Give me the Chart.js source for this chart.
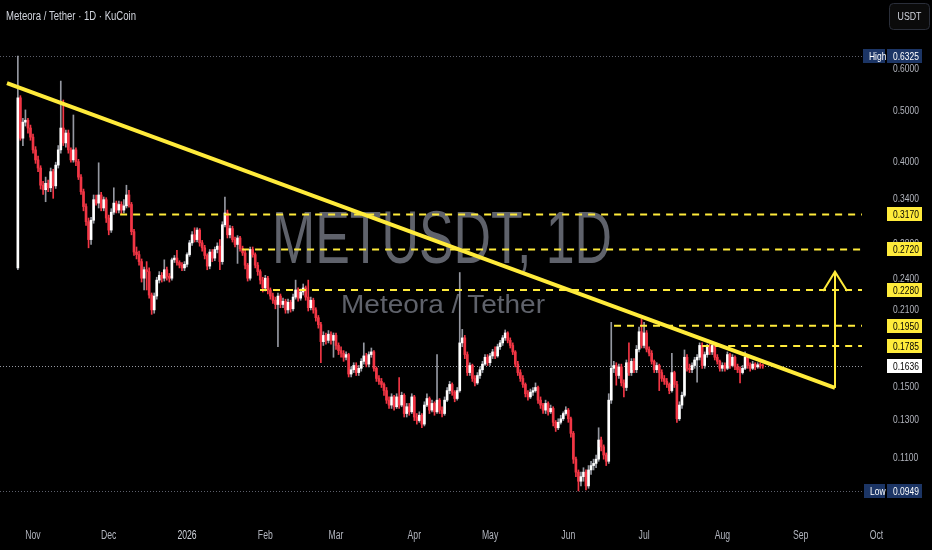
<!DOCTYPE html>
<html>
<head>
<meta charset="utf-8">
<title>METUSDT 1D</title>
<script src="https://cdn.jsdelivr.net/npm/chart.js@4.4.1/dist/chart.umd.min.js"></script>
<style>
  html, body { margin: 0; padding: 0; background: #000; }
  #wrap { width: 932px; height: 550px; }
</style>
</head>
<body>
<div id="wrap"><canvas id="chart" width="932" height="550"></canvas></div>
<script>
// daily candles, first one is Oct 26 2025 (day -6 counted from Nov 1)
const FIRST_DAY = -6;

const opens = [
  0.251,0.527,0.442,0.474,0.478,0.462,0.444,0.420,0.402,0.388,
  0.360,0.353,0.363,0.356,0.382,0.359,0.393,0.420,0.462,0.433,
  0.452,0.420,0.402,0.420,0.399,0.373,0.350,0.328,0.307,0.284,
  0.309,0.338,0.333,0.345,0.326,0.338,0.312,0.296,0.320,0.333,
  0.323,0.331,0.323,0.329,0.345,0.331,0.294,0.269,0.266,0.258,
  0.240,0.249,0.247,0.223,0.209,0.222,0.238,0.243,0.240,0.249,
  0.242,0.240,0.260,0.262,0.257,0.254,0.251,0.255,0.266,0.280,
  0.290,0.284,0.296,0.280,0.274,0.265,0.253,0.269,0.262,0.272,
  0.276,0.258,0.303,0.319,0.290,0.298,0.284,0.278,0.286,0.273,
  0.268,0.254,0.240,0.272,0.266,0.254,0.247,0.238,0.230,0.240,
  0.228,0.222,0.218,0.214,0.222,0.214,0.217,0.209,0.216,0.210,
  0.221,0.228,0.220,0.226,0.230,0.221,0.211,0.218,0.209,0.202,
  0.196,0.182,0.187,0.183,0.188,0.183,0.187,0.179,0.175,0.173,
  0.170,0.172,0.158,0.161,0.164,0.159,0.162,0.167,0.171,0.165,
  0.172,0.174,0.162,0.155,0.153,0.151,0.147,0.141,0.138,0.143,
  0.137,0.143,0.138,0.144,0.133,0.137,0.134,0.143,0.131,0.129,
  0.132,0.127,0.138,0.142,0.135,0.139,0.134,0.141,0.135,0.133,
  0.141,0.147,0.151,0.146,0.142,0.147,0.181,0.185,0.172,0.159,
  0.164,0.155,0.152,0.157,0.161,0.165,0.170,0.166,0.171,0.174,
  0.171,0.178,0.181,0.185,0.189,0.183,0.179,0.174,0.165,0.159,
  0.155,0.151,0.145,0.143,0.146,0.147,0.149,0.141,0.138,0.135,
  0.139,0.134,0.136,0.128,0.125,0.128,0.130,0.133,0.135,0.130,
  0.122,0.109,0.103,0.099,0.101,0.103,0.097,0.104,0.106,0.107,
  0.109,0.1185,0.115,0.111,0.108,0.141,0.162,0.164,0.157,0.163,
  0.152,0.149,0.166,0.159,0.167,0.161,0.176,0.190,0.179,0.189,
  0.176,0.173,0.167,0.161,0.164,0.159,0.155,0.153,0.151,0.147,
  0.159,0.151,0.130,0.138,0.144,0.170,0.162,0.161,0.164,0.168,
  0.170,0.179,0.164,0.172,0.178,0.174,0.179,0.170,0.167,0.162,
  0.164,0.162,0.172,0.164,0.170,0.163,0.161,0.159,0.162,0.170,
  0.164,0.162,0.165,0.163,0.1645,0.1640
];
const highs = [
  0.6325,0.532,0.482,0.500,0.482,0.468,0.450,0.426,0.409,0.392,
  0.366,0.373,0.368,0.388,0.386,0.398,0.428,0.567,0.522,0.458,
  0.458,0.424,0.489,0.424,0.403,0.377,0.354,0.332,0.312,0.313,
  0.345,0.345,0.397,0.349,0.342,0.341,0.316,0.325,0.356,0.336,
  0.336,0.335,0.338,0.360,0.352,0.334,0.297,0.275,0.270,0.261,
  0.252,0.258,0.251,0.225,0.225,0.241,0.247,0.246,0.260,0.252,
  0.245,0.262,0.265,0.271,0.259,0.257,0.258,0.268,0.283,0.294,
  0.299,0.299,0.298,0.283,0.277,0.267,0.272,0.272,0.275,0.280,
  0.284,0.307,0.342,0.323,0.302,0.301,0.287,0.289,0.288,0.276,
  0.271,0.256,0.275,0.275,0.268,0.257,0.249,0.241,0.243,0.242,
  0.230,0.225,0.221,0.225,0.224,0.220,0.219,0.219,0.218,0.224,
  0.238,0.230,0.229,0.234,0.232,0.238,0.221,0.220,0.211,0.204,
  0.198,0.190,0.189,0.191,0.190,0.189,0.189,0.181,0.178,0.175,
  0.174,0.173,0.163,0.166,0.166,0.164,0.169,0.181,0.173,0.174,
  0.177,0.175,0.163,0.157,0.155,0.152,0.149,0.143,0.145,0.144,
  0.145,0.1555,0.146,0.145,0.139,0.139,0.145,0.144,0.133,0.134,
  0.133,0.140,0.145,0.143,0.141,0.140,0.172,0.142,0.137,0.143,
  0.149,0.153,0.152,0.147,0.149,0.246,0.192,0.187,0.174,0.166,
  0.165,0.157,0.159,0.163,0.167,0.172,0.172,0.173,0.176,0.178,
  0.180,0.183,0.187,0.1915,0.190,0.185,0.181,0.175,0.167,0.161,
  0.157,0.152,0.147,0.148,0.149,0.152,0.150,0.143,0.139,0.141,
  0.140,0.138,0.137,0.129,0.130,0.132,0.134,0.137,0.136,0.131,
  0.123,0.110,0.104,0.103,0.105,0.104,0.106,0.108,0.109,0.111,
  0.125,0.120,0.116,0.112,0.145,0.198,0.167,0.166,0.165,0.165,
  0.154,0.168,0.181,0.169,0.169,0.179,0.194,0.201,0.198,0.191,
  0.178,0.175,0.168,0.166,0.165,0.161,0.157,0.155,0.152,0.173,
  0.160,0.153,0.140,0.146,0.1755,0.172,0.165,0.166,0.170,0.172,
  0.181,0.181,0.174,0.180,0.180,0.181,0.180,0.172,0.168,0.166,
  0.166,0.174,0.173,0.172,0.171,0.165,0.163,0.164,0.174,0.171,
  0.166,0.167,0.166,0.166,0.166,0.165
];
const lows = [
  0.249,0.438,0.428,0.466,0.452,0.438,0.414,0.396,0.382,0.354,
  0.346,0.335,0.350,0.350,0.340,0.355,0.388,0.414,0.428,0.425,
  0.414,0.398,0.398,0.392,0.369,0.346,0.322,0.302,0.274,0.278,
  0.305,0.330,0.326,0.322,0.322,0.306,0.290,0.293,0.317,0.319,
  0.319,0.318,0.319,0.326,0.327,0.290,0.265,0.261,0.254,0.236,
  0.228,0.228,0.220,0.205,0.206,0.219,0.235,0.236,0.237,0.238,
  0.236,0.238,0.257,0.254,0.251,0.248,0.248,0.252,0.264,0.277,
  0.281,0.281,0.276,0.270,0.261,0.249,0.250,0.258,0.259,0.268,
  0.249,0.255,0.300,0.286,0.286,0.281,0.275,0.256,0.270,0.265,
  0.250,0.237,0.238,0.263,0.251,0.243,0.234,0.226,0.227,0.224,
  0.219,0.215,0.210,0.178,0.211,0.211,0.206,0.206,0.207,0.208,
  0.219,0.217,0.218,0.223,0.218,0.208,0.209,0.206,0.199,0.193,
  0.166,0.179,0.180,0.181,0.180,0.170,0.176,0.172,0.170,0.167,
  0.168,0.156,0.156,0.159,0.157,0.157,0.160,0.165,0.163,0.163,
  0.170,0.160,0.153,0.151,0.149,0.144,0.139,0.136,0.136,0.135,
  0.136,0.136,0.137,0.131,0.131,0.132,0.133,0.129,0.127,0.128,
  0.125,0.126,0.137,0.133,0.134,0.132,0.133,0.133,0.131,0.132,
  0.140,0.145,0.144,0.140,0.141,0.146,0.178,0.169,0.157,0.157,
  0.153,0.150,0.151,0.155,0.159,0.164,0.164,0.164,0.169,0.169,
  0.170,0.176,0.179,0.183,0.181,0.177,0.172,0.163,0.157,0.153,
  0.149,0.143,0.141,0.142,0.144,0.146,0.139,0.136,0.133,0.133,
  0.132,0.133,0.126,0.123,0.124,0.127,0.129,0.132,0.128,0.120,
  0.107,0.101,0.0949,0.097,0.099,0.0953,0.096,0.102,0.104,0.105,
  0.108,0.113,0.109,0.106,0.107,0.139,0.159,0.1505,0.155,0.150,
  0.143,0.147,0.157,0.157,0.159,0.159,0.174,0.177,0.177,0.174,
  0.171,0.165,0.159,0.159,0.147,0.153,0.151,0.149,0.145,0.146,
  0.149,0.128,0.129,0.136,0.143,0.160,0.159,0.159,0.162,0.1525,
  0.168,0.162,0.162,0.170,0.172,0.172,0.168,0.165,0.160,0.160,
  0.160,0.161,0.162,0.163,0.161,0.159,0.152,0.158,0.161,0.162,
  0.160,0.161,0.161,0.162,0.162,0.162
];
const closes = [
  0.527,0.442,0.474,0.478,0.462,0.444,0.420,0.402,0.388,0.360,
  0.353,0.363,0.356,0.382,0.359,0.393,0.420,0.462,0.433,0.452,
  0.420,0.402,0.420,0.399,0.373,0.350,0.328,0.307,0.284,0.309,
  0.338,0.333,0.345,0.326,0.338,0.312,0.296,0.320,0.333,0.323,
  0.331,0.323,0.329,0.345,0.331,0.294,0.269,0.266,0.258,0.240,
  0.249,0.247,0.223,0.209,0.222,0.238,0.243,0.240,0.249,0.242,
  0.240,0.260,0.262,0.257,0.254,0.251,0.255,0.266,0.280,0.290,
  0.284,0.296,0.280,0.274,0.265,0.253,0.269,0.262,0.272,0.276,
  0.258,0.303,0.319,0.290,0.298,0.284,0.278,0.286,0.273,0.268,
  0.254,0.240,0.272,0.266,0.254,0.247,0.238,0.230,0.240,0.228,
  0.222,0.218,0.214,0.222,0.214,0.217,0.209,0.216,0.210,0.221,
  0.228,0.220,0.226,0.230,0.221,0.211,0.218,0.209,0.202,0.196,
  0.182,0.187,0.183,0.188,0.183,0.187,0.179,0.175,0.173,0.170,
  0.172,0.158,0.161,0.164,0.159,0.162,0.167,0.171,0.165,0.172,
  0.174,0.162,0.155,0.153,0.151,0.147,0.141,0.138,0.143,0.137,
  0.143,0.138,0.144,0.133,0.137,0.134,0.143,0.131,0.129,0.132,
  0.127,0.138,0.142,0.135,0.139,0.134,0.141,0.135,0.133,0.141,
  0.147,0.151,0.146,0.142,0.147,0.181,0.185,0.172,0.159,0.164,
  0.155,0.152,0.157,0.161,0.165,0.170,0.166,0.171,0.174,0.171,
  0.178,0.181,0.185,0.189,0.183,0.179,0.174,0.165,0.159,0.155,
  0.151,0.145,0.143,0.146,0.147,0.149,0.141,0.138,0.135,0.139,
  0.134,0.136,0.128,0.125,0.128,0.130,0.133,0.135,0.130,0.122,
  0.109,0.103,0.099,0.101,0.103,0.097,0.104,0.106,0.107,0.109,
  0.1185,0.115,0.111,0.108,0.141,0.162,0.164,0.157,0.163,0.152,
  0.149,0.166,0.159,0.167,0.161,0.176,0.190,0.179,0.189,0.176,
  0.173,0.167,0.161,0.164,0.159,0.155,0.153,0.151,0.147,0.159,
  0.151,0.130,0.138,0.144,0.170,0.162,0.161,0.164,0.168,0.170,
  0.179,0.164,0.172,0.178,0.174,0.179,0.170,0.167,0.162,0.164,
  0.162,0.172,0.164,0.170,0.163,0.161,0.159,0.162,0.170,0.164,
  0.162,0.165,0.163,0.1645,0.1640,0.1636
];

// axis ticks / labels
const monthDays   = [0, 30, 61, 92, 120, 151, 181, 212, 242, 273, 304, 334];
const monthLabels = ['Nov', 'Dec', '2026', 'Feb', 'Mar', 'Apr', 'May', 'Jun', 'Jul', 'Aug', 'Sep', 'Oct'];
const priceTicks  = [0.6, 0.5, 0.4, 0.34, 0.28, 0.24, 0.21, 0.15, 0.13, 0.11];

// drawn levels
const levelPrices = [0.3170, 0.2720, 0.2280, 0.1950, 0.1785];
const levelStart  = [34.5, 82.8, 89.9, 230.1, 265];
const trendDays   = [-10.3, 317.6];
const trendPrices = [0.562, 0.1487];
const arrowDays   = [317.6, 317.6];
const arrowPrices = [0.1487, 0.247];
const headDays    = [312.9, 317.6, 322.4];
const headPrices  = [0.227, 0.247, 0.227];
const HIGH = 0.6325, LOW = 0.0949, LAST = 0.1636;

const X_MIN = -13.07, X_MAX = 328.3;
const Y_MIN = 0.0836, Y_MAX = 0.8075;

const UP = '#ffffff', DOWN = '#f23645', UP_WICK = '#9598a1', YELLOW = '#ffeb3b';
const AXIS_TEXT = '#b2b5be';
const FONT = "'Liberation Sans', Arial, sans-serif";
const SQUEEZE = 0.77;   // the screenshot text is narrow

const isUp = i => closes[i] >= opens[i];

const wickData = lows.map((l, i) => ({ x: FIRST_DAY + i, y: [l, highs[i]] }));
const bodyData = opens.map((o, i) => ({ x: FIRST_DAY + i, y: [o, closes[i]] }));

function lineSet(xs, ys, width, dash) {
  return {
    type: 'line',
    data: xs.map((x, i) => ({ x: x, y: ys[i] })),
    borderColor: YELLOW,
    borderWidth: width,
    borderDash: dash || [],
    pointRadius: 0,
    fill: false,
    tension: 0,
    order: 0
  };
}

const datasets = [
  {
    type: 'bar',
    label: 'wick',
    data: wickData,
    backgroundColor: ctx => isUp(ctx.dataIndex) ? UP_WICK : DOWN,
    barThickness: 1,
    grouped: false,
    borderWidth: 0,
    order: 3
  },
  {
    type: 'bar',
    label: 'body',
    data: bodyData,
    backgroundColor: ctx => isUp(ctx.dataIndex) ? UP : DOWN,
    barThickness: 2,
    minBarLength: 1,
    grouped: false,
    borderWidth: 0,
    order: 2
  }
];
levelPrices.forEach((p, i) => {
  datasets.push(lineSet([levelStart[i], X_MAX], [p, p], 2, [7, 6]));
});
datasets.push(lineSet(trendDays, trendPrices, 4));
datasets.push(lineSet(arrowDays, arrowPrices, 2));
datasets.push(lineSet(headDays, headPrices, 2));

// text drawn narrower than the font to match the capture
function squeezed(ctx, text, x, y, size, sx, align) {
  ctx.save();
  ctx.font = size + 'px ' + FONT;
  ctx.translate(x, y);
  ctx.scale(sx, 1);
  ctx.textAlign = align;
  ctx.fillText(text, 0, 0);
  ctx.restore();
}

function fitText(ctx, text, x, y, size, width, align) {
  ctx.font = size + 'px ' + FONT;
  const w = ctx.measureText(text).width;
  squeezed(ctx, text, x, y, size, width / w, align);
}

function hDotted(ctx, area, y, color) {
  ctx.save();
  ctx.strokeStyle = color;
  ctx.lineWidth = 1;
  ctx.setLineDash([1, 2]);
  ctx.beginPath();
  ctx.moveTo(area.left, Math.round(y) + 0.5);
  ctx.lineTo(area.right, Math.round(y) + 0.5);
  ctx.stroke();
  ctx.restore();
}

function box(ctx, x, y, w, text, fill, color) {
  const yy = Math.round(y);
  ctx.fillStyle = fill;
  ctx.fillRect(x, yy - 7, w, 14);
  ctx.fillStyle = color;
  ctx.textBaseline = 'middle';
  squeezed(ctx, text, x + 6, yy + 0.5, 11, SQUEEZE, 'left');
}

const overlay = {
  id: 'overlay',
  beforeDatasetsDraw(chart) {
    const ctx = chart.ctx, area = chart.chartArea, ys = chart.scales.y;
    ctx.save();
    ctx.fillStyle = '#5f626b';
    ctx.textBaseline = 'alphabetic';
    fitText(ctx, 'METUSDT, 1D', 442, 263, 75, 340, 'center');
    fitText(ctx, 'Meteora / Tether', 443, 313, 26, 204, 'center');
    ctx.restore();
    hDotted(ctx, area, ys.getPixelForValue(HIGH), '#5d606b');
    hDotted(ctx, area, ys.getPixelForValue(LOW), '#5d606b');
    hDotted(ctx, area, ys.getPixelForValue(LAST), '#9598a1');
  },
  afterDraw(chart) {
    const ctx = chart.ctx, ys = chart.scales.y, xs = chart.scales.x;
    const bx = ys.left + 25;
    ctx.save();

    // price scale labels from the scale's own ticks
    ctx.fillStyle = AXIS_TEXT;
    ctx.textBaseline = 'middle';
    ys.ticks.forEach(t => {
      squeezed(ctx, t.value.toFixed(4), ys.left + 31, Math.round(ys.getPixelForValue(t.value)) + 0.5, 11, SQUEEZE, 'left');
    });

    // price axis markers
    levelPrices.forEach(p => {
      box(ctx, bx, ys.getPixelForValue(p), 35, p.toFixed(4), YELLOW, '#000');
    });
    box(ctx, bx, ys.getPixelForValue(LAST), 35, LAST.toFixed(4), '#ffffff', '#000');
    box(ctx, bx, ys.getPixelForValue(HIGH), 35, HIGH.toFixed(4), '#1c3565', '#ffffff');
    box(ctx, ys.left + 1, ys.getPixelForValue(HIGH), 22, 'High', '#1c3565', '#ffffff');
    box(ctx, bx, ys.getPixelForValue(LOW), 35, LOW.toFixed(4), '#1c3565', '#ffffff');
    box(ctx, ys.left + 2, ys.getPixelForValue(LOW), 21, 'Low', '#1c3565', '#ffffff');

    // time axis
    ctx.textBaseline = 'middle';
    monthDays.forEach((d, i) => {
      ctx.fillStyle = monthLabels[i] === '2026' ? '#d1d4dc' : AXIS_TEXT;
      squeezed(ctx, monthLabels[i], xs.getPixelForValue(d), 536, 12, 0.72, 'center');
    });

    // header
    ctx.fillStyle = '#d1d4dc';
    ctx.textBaseline = 'alphabetic';
    fitText(ctx, 'Meteora / Tether \u00b7 1D \u00b7 KuCoin', 6, 20, 13, 130, 'left');

    // currency button
    ctx.strokeStyle = '#2a2e39';
    ctx.fillStyle = '#0b0b0b';
    ctx.lineWidth = 1;
    ctx.beginPath();
    ctx.roundRect(889.5, 3.5, 40, 26, 4);
    ctx.fill();
    ctx.stroke();
    ctx.fillStyle = '#d1d4dc';
    ctx.textBaseline = 'middle';
    squeezed(ctx, 'USDT', 909.5, 17, 11, 0.8, 'center');
    ctx.restore();
  }
};

new Chart(document.getElementById('chart'), {
  type: 'bar',
  data: { datasets: datasets },
  options: {
    responsive: false,
    animation: false,
    events: [],
    layout: { padding: 0 },
    plugins: {
      legend: { display: false },
      tooltip: { enabled: false }
    },
    scales: {
      x: {
        type: 'linear',
        min: X_MIN,
        max: X_MAX,
        offset: false,
        grid: { display: false },
        border: { display: false },
        ticks: { display: false },
        afterFit: s => { s.height = 30; s.paddingLeft = 0; s.paddingRight = 0; }
      },
      y: {
        type: 'logarithmic',
        position: 'right',
        min: Y_MIN,
        max: Y_MAX,
        grid: { display: false, drawTicks: false },
        border: { display: false },
        afterFit: s => { s.width = 70; s.paddingTop = 0; s.paddingBottom = 0; },
        afterBuildTicks: s => { s.ticks = priceTicks.map(v => ({ value: v })); },
        ticks: { display: false, autoSkip: false, padding: 0 }
      }
    }
  },
  plugins: [overlay]
});
</script>
</body>
</html>
